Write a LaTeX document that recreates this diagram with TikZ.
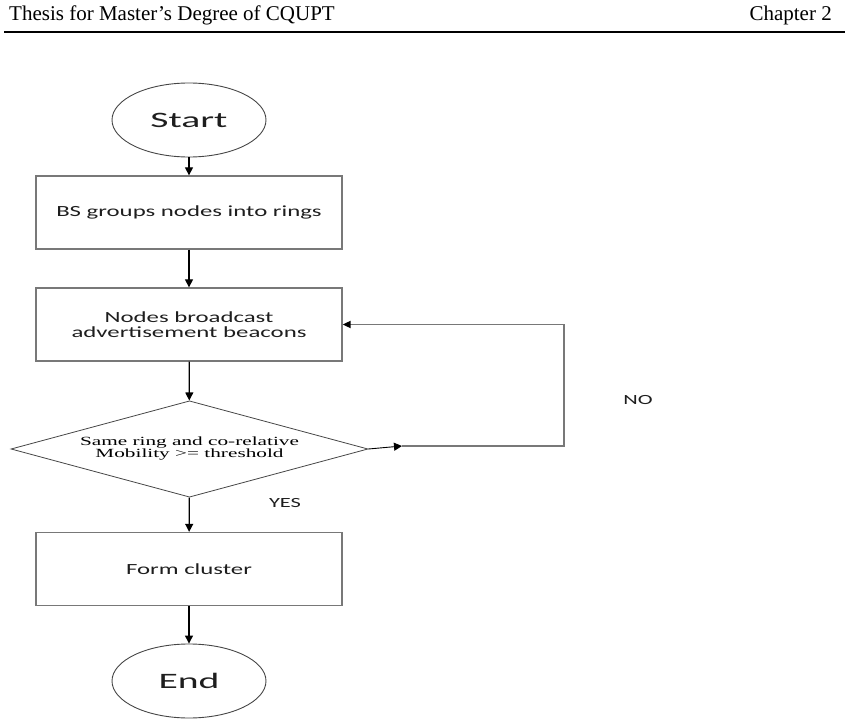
\documentclass[tikz,border=0pt]{standalone}
\usepackage{fontspec}
\setmainfont{Liberation Serif}
\newfontfamily\flowfont[FakeStretch=1.6]{Carlito}
\newfontfamily\termfont[FakeStretch=1.8]{Carlito}
\newfontfamily\condfont[FakeStretch=1.7]{Liberation Serif}
\usepackage{xcolor}
\usepackage{tikz}
\usetikzlibrary{arrows.meta,shapes.geometric}
\definecolor{boxgray}{RGB}{120,120,120}
\definecolor{edgegray}{RGB}{70,70,70}
\definecolor{txtgray}{RGB}{30,30,30}
\tikzset{
  term/.style={ellipse,draw=edgegray,line width=0.9pt,minimum width=154pt,minimum height=74pt,inner sep=0pt,text=txtgray,font=\termfont\fontsize{22}{24}\selectfont},
  blk/.style={rectangle,draw=boxgray,line width=1.3pt,minimum width=306pt,minimum height=73pt,inner sep=0pt,align=center,text=txtgray,font=\flowfont\fontsize{15.5}{15}\selectfont},
  dec/.style={diamond,draw=edgegray,line width=0.8pt,minimum width=357pt,minimum height=96pt,inner sep=0pt,aspect=3,align=center,font=\condfont\fontsize{12.5}{12}\selectfont},
  arr/.style={line width=1.2pt,-{Triangle[length=8pt,width=8pt]}},
  fb/.style={draw=boxgray,line width=1.8pt,-{Triangle[length=8pt,width=7pt,black]}},
  lbl/.style={inner sep=0pt,text=txtgray,font=\flowfont\fontsize{14}{14}\selectfont}
}

\begin{document}
\begin{tikzpicture}[x=1pt,y=-1pt]
\useasboundingbox (0,0) rectangle (847,725);
\node[anchor=west,inner sep=0pt,font=\fontsize{21}{21}\selectfont] (thesis) at (9,15) {Thesis for Master's Degree of CQUPT};
\node[anchor=east,inner sep=0pt,font=\fontsize{21}{21}\selectfont] (chap) at (832,15) {Chapter 2};
\draw[line width=2.2pt] (4,32) -- (845,32);

\node[term] (start) at (189,120) {Start};
\node[blk] (group) at (189,212.5) {BS groups nodes into rings};
\node[blk] (bcast) at (189,324.5) {Nodes broadcast\\advertisement beacons};
\node[dec] (check) at (189.5,449) {Same ring and co-relative\\Mobility >= threshold};
\node[blk] (form) at (189,569) {Form cluster};
\node[term] (end) at (189,681) {End};

\draw[arr] (start) -- (group);
\draw[arr] (group) -- (bcast);
\draw[arr] (bcast) -- (check);
\draw[arr] (check) -- (form);
\draw[arr] (form) -- (end);

\coordinate (lpB) at (564,446);
\coordinate (lpT) at (564,324.5);
\coordinate (notip) at (402,446);
\draw[arr,line width=0.9pt] (check.east) -- (notip);
\draw[fb] (notip) -- (lpB) -- (lpT) -- (bcast.east);

\node[lbl] (yes) at (285,503) {YES};
\node[lbl] (no) at (638,400) {NO};
\end{tikzpicture}
\end{document}
